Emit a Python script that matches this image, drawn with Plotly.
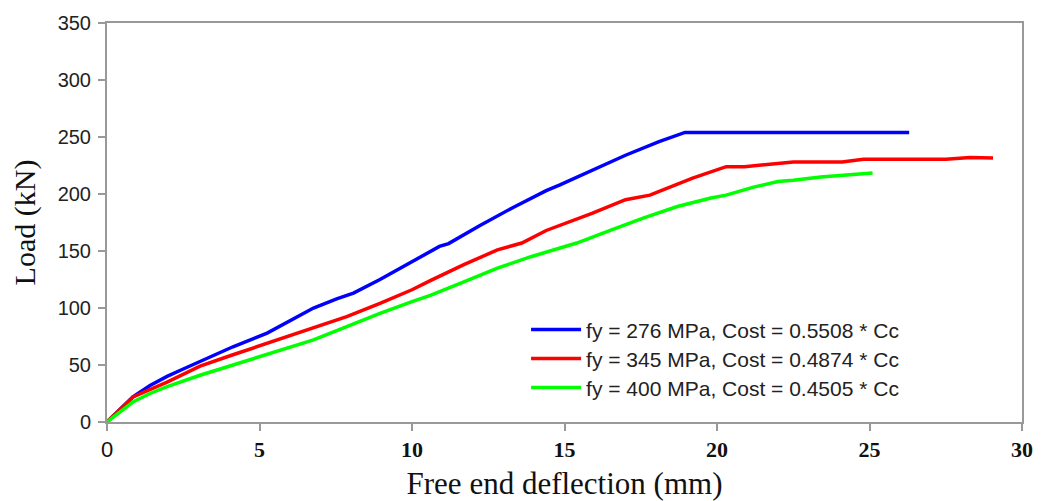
import plotly.graph_objects as go

# Blue: fy = 276 MPa
x_276 = [0, 0.85, 1.41, 1.97, 2.5, 3.38, 4.13, 5.25, 6.77, 7.53, 8.08, 8.95, 10.0, 10.6, 10.9, 11.2, 12.2, 13.3, 14.4, 14.85, 15.9, 17.0, 18.1, 18.95, 26.3]
y_276 = [0, 22, 32, 40, 46.5, 57, 66, 78, 100, 108, 113, 125, 141, 150, 154, 156.5, 172, 188, 203, 208, 221, 234, 246, 254, 254]

# Red: fy = 345 MPa
x_345 = [0, 0.85, 1.97, 3.05, 4.13, 5.25, 6.77, 7.86, 8.95, 10.0, 10.6, 11.7, 12.8, 13.6, 14.4, 15.9, 17.0, 17.8, 19.2, 20.3, 20.9, 22.0, 22.5, 24.1, 24.8, 27.5, 28.3, 29.05]
y_345 = [0, 22, 35, 49, 59, 69, 82, 92.4, 104, 116, 124, 138, 151, 157, 168, 183, 195, 199, 214, 224, 224, 227, 228, 228, 230.5, 230.5, 232, 231.5]

# Green: fy = 400 MPa
x_400 = [0, 0.85, 1.41, 1.97, 3.05, 4.13, 5.25, 6.77, 7.86, 8.95, 10.0, 10.6, 11.7, 12.8, 13.9, 15.0, 15.4, 16.5, 17.6, 18.7, 19.8, 20.3, 21.2, 22.0, 22.5, 23.4, 25.1]
y_400 = [0, 17.5, 25, 31, 41, 50, 59, 72, 83.6, 95.3, 105.5, 111, 123, 135, 145, 154, 157, 168, 179, 189, 196.5, 199, 206, 211, 212, 215, 218.5]

names = ["fy = 276 MPa, Cost = 0.5508 * Cc",
         "fy = 345 MPa, Cost = 0.4874 * Cc",
         "fy = 400 MPa, Cost = 0.4505 * Cc"]
colors = ["#0000FF", "#FF0000", "#00FF00"]

x_ticks = [0, 5, 10, 15, 20, 25, 30]
x_ticktext = ["<span style='font-family:Arial;font-weight:normal'>0</span>"] + [f"<b>{v}</b>" for v in x_ticks[1:]]
y_ticks = [0, 50, 100, 150, 200, 250, 300, 350]

legend_ids = ["legend", "legend2", "legend3"]
legend_y = [0.2824, 0.2098, 0.137]

fig = go.Figure()
for xs, ys, n, c, lg in zip([x_276, x_345, x_400], [y_276, y_345, y_400], names, colors, legend_ids):
    fig.add_trace(go.Scatter(x=xs, y=ys, mode="lines", name=n, legend=lg, showlegend=True,
                             line=dict(color=c, width=3.5)))

serif = "Times New Roman, Liberation Serif, serif"
legend_style = dict(x=0.458, xanchor="left", yanchor="top",
                    font=dict(family="Arial, Liberation Sans", size=21, color="#222"),
                    bgcolor="rgba(0,0,0,0)", itemwidth=50, visible=True)
fig.update_layout(
    width=1033, height=493,
    margin=dict(l=99, r=19, t=15, b=79),
    paper_bgcolor="white", plot_bgcolor="white",
    showlegend=True,
    legend=dict(y=legend_y[0], **legend_style),
    legend2=dict(y=legend_y[1], **legend_style),
    legend3=dict(y=legend_y[2], **legend_style),
    xaxis=dict(range=[0, 30], tickvals=x_ticks, ticktext=x_ticktext,
               showgrid=False, zeroline=False, automargin=False,
               showline=True, linecolor="#999", linewidth=2, mirror=True,
               ticks="outside", ticklen=7, tickcolor="#999", tickwidth=1.5,
               tickfont=dict(family=serif, size=22, color="#111"),
               title=dict(text="Free end deflection (mm)", standoff=15,
                          font=dict(family=serif, size=31, color="#111"))),
    yaxis=dict(range=[0, 350], tickvals=y_ticks,
               showgrid=False, zeroline=False, automargin=False,
               showline=True, linecolor="#999", linewidth=2, mirror=True,
               ticks="outside", ticklen=7, tickcolor="#999", tickwidth=1.5,
               ticklabelstandoff=3,
               tickfont=dict(family="Arial, Liberation Sans", size=20, color="#222"),
               title=dict(text="Load (kN)", standoff=14,
                          font=dict(family=serif, size=30, color="#111"))),
)

fig.write_html("out.html")
